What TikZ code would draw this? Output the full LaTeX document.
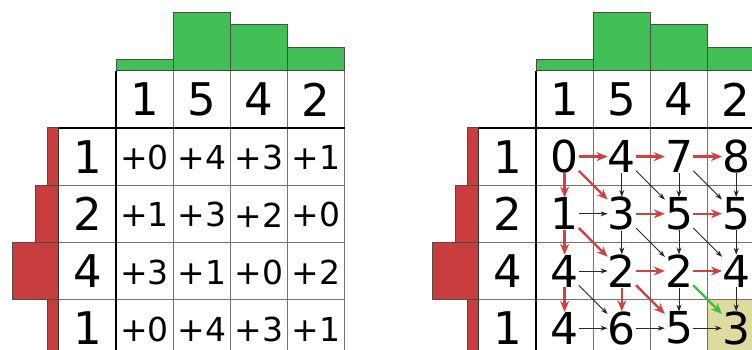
\documentclass[tikz,border=0pt]{standalone}
\usepackage{fontspec}
\setmainfont{DejaVu Sans}
\usetikzlibrary{arrows.meta}
\definecolor{barg}{RGB}{66,190,86}
\definecolor{barr}{RGB}{200,62,62}
\definecolor{hl}{RGB}{221,219,160}
\definecolor{gridc}{RGB}{115,115,115}
\definecolor{arrr}{RGB}{205,66,66}
\definecolor{arrg}{RGB}{60,190,60}
\tikzset{
 gridline/.style={draw=gridc, line width=1.3pt},
 frameline/.style={draw=black, line width=1.8pt},
 gbar/.style={fill=barg, draw=black!70, line width=1pt},
 rbar/.style={fill=barr, draw=black!70, line width=1pt},
 big/.style={font=\fontsize{45}{45}\selectfont, inner sep=0pt},
 cost/.style={font=\fontsize{33}{33}\selectfont, inner sep=0pt},
 acc/.style={font=\fontsize{44}{44}\selectfont, inner sep=0pt, minimum width=28pt, minimum height=32pt},
 blk/.style={-{Stealth[length=7pt,width=5pt]}, line width=0.9pt, draw=black!85, color=black!85},
 redarr/.style={-{Stealth[length=11pt,width=9pt]}, line width=2.4pt, draw=arrr, color=arrr},
 grnarr/.style={-{Stealth[length=11pt,width=9pt]}, line width=2.4pt, draw=arrg, color=arrg},
}
\begin{document}
\begin{tikzpicture}[x=1pt,y=-1pt]
\useasboundingbox (0,0) rectangle (752,350);
\clip (0,0) rectangle (752,350);
\fill[white] (0,0) rectangle (752,350);
\foreach \ox/\p in {0/L,420/R} {
  % column bars
  \foreach \v [count=\j] in {1,5,4,2}
    \draw[gbar] ({\ox+116+(\j-1)*57.2},70.8) rectangle ++(57.2,{-\v*11.6});
  % row bars
  \foreach \v [count=\i] in {1,2,4,1}
    \draw[rbar] ({\ox+58.8},{128+(\i-1)*57.2}) rectangle ++({-\v*11.6},57.2);
}
% highlighted end cell
\fill[hl] (707.6,299.6) rectangle ++(57.2,57.2);
\foreach \ox/\p in {0/L,420/R} {
  % grid
  \foreach \k in {1,...,4}
    \draw[gridline] ({\ox+116+\k*57.2},70.8) -- ({\ox+116+\k*57.2},360);
  \foreach \k in {1,...,4}
    \draw[gridline] ({\ox+58.8},{128+\k*57.2}) -- ({\ox+344.8},{128+\k*57.2});
  \draw[gridline,draw=black!75] ({\ox+116},70.8) -- ({\ox+344.8},70.8);
  \draw[gridline,draw=black!80] ({\ox+58.8},128) -- ({\ox+58.8},360);
  \draw[frameline] ({\ox+116},70.8) -- ({\ox+116},360);
  \draw[frameline] ({\ox+58.8},128) -- ({\ox+344.8},128);
  % header and row labels
  \foreach \v [count=\j] in {1,5,4,2}
    \node[big] (h\p\j) at ({\ox+116+(\j-0.5)*57.2},99.4) {\v};
  \foreach \v [count=\i] in {1,2,4,1}
    \node[big] (r\p\i) at ({\ox+87.4},{128+(\i-0.5)*57.2}) {\v};
}
% cost matrix
\foreach \row [count=\i] in {{0,4,3,1},{1,3,2,0},{3,1,0,2},{0,4,3,1}} {
  \foreach \v [count=\j] in \row
    \node[cost] (c\i\j) at ({116+(\j-0.5)*57.2},{128+(\i-0.5)*57.2+1}) {+\v};
}
% accumulated matrix
\foreach \row [count=\i] in {{0,4,7,8},{1,3,5,5},{4,2,2,4},{4,6,5,3}} {
  \foreach \v [count=\j] in \row
    \node[acc] (a\i\j) at ({536+(\j-0.5)*57.2},{128+(\i-0.5)*57.2}) {\v};
}
% horizontal arrows
\draw[redarr] (a11) -- (a12);
\draw[redarr] (a12) -- (a13);
\draw[redarr] (a13) -- (a14);
\draw[blk] (a21) -- (a22);
\draw[redarr] (a22) -- (a23);
\draw[redarr] (a23) -- (a24);
\draw[blk] (a31) -- (a32);
\draw[redarr] (a32) -- (a33);
\draw[redarr] (a33) -- (a34);
\draw[blk] (a41) -- (a42);
\draw[blk] (a42) -- (a43);
\draw[blk] (a43) -- (a44);
% vertical arrows
\draw[redarr] (a11) -- (a21);
\draw[blk] (a12) -- (a22);
\draw[blk] (a13) -- (a23);
\draw[blk] (a14) -- (a24);
\draw[redarr] (a21) -- (a31);
\draw[blk] (a22) -- (a32);
\draw[blk] (a23) -- (a33);
\draw[blk] (a24) -- (a34);
\draw[redarr] (a31) -- (a41);
\draw[redarr] (a32) -- (a42);
\draw[blk] (a33) -- (a43);
\draw[blk] (a34) -- (a44);
% diagonal arrows
\draw[redarr] (a11) -- (a22);
\draw[blk] (a12) -- (a23);
\draw[blk] (a13) -- (a24);
\draw[redarr] (a21) -- (a32);
\draw[blk] (a22) -- (a33);
\draw[blk] (a23) -- (a34);
\draw[blk] (a31) -- (a42);
\draw[redarr] (a32) -- (a43);
\draw[grnarr] (a33) -- (a44);
\end{tikzpicture}
\end{document}
